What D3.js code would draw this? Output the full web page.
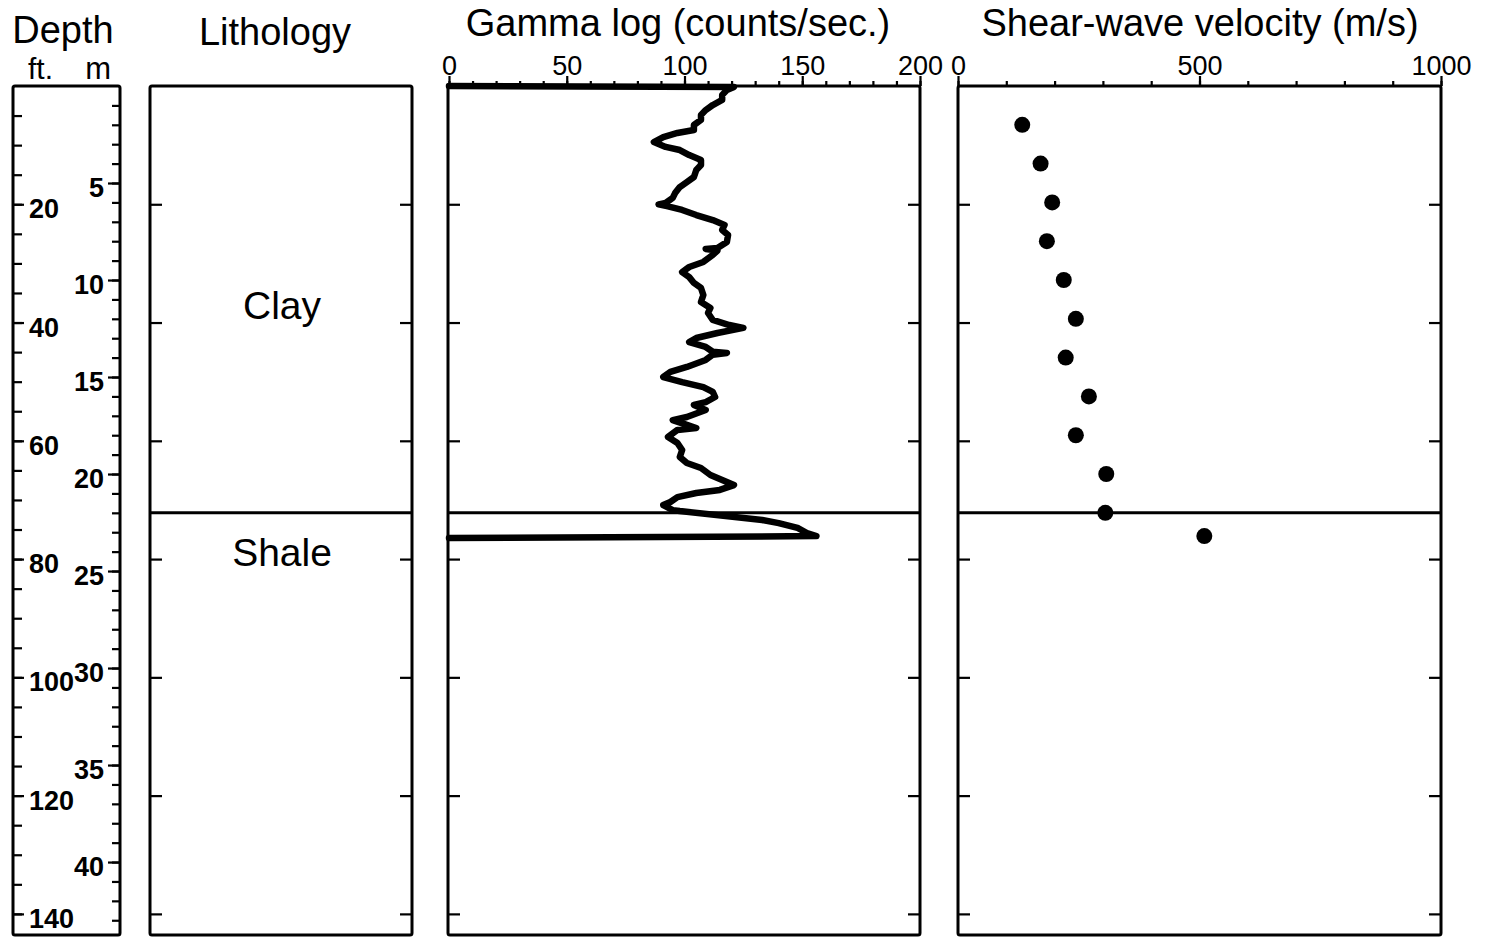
<!DOCTYPE html>
<html>
<head>
<meta charset="utf-8">
<script src="https://cdn.jsdelivr.net/npm/d3@7"></script>
<style>
  body { margin: 0; background: #fff; }
  svg { display: block; }
  text { font-family: "Liberation Sans", Arial, sans-serif; fill: #000; }
</style>
</head>
<body>
<svg id="chart" width="1485" height="937"></svg>
<script>
// depth axis labels
const ftLabels = [20, 40, 60, 80, 100, 120, 140];
const mLabels = [5, 10, 15, 20, 25, 30, 35, 40];

// lithology (depths in m)
const layerNames = ['Clay', 'Shale'];
const layerTops = [0, 22];

// gamma log axis + trace (depth in m, counts/sec)
const gammaTicks = [0, 50, 100, 150, 200];
const gammaDepth = [0, 0.05, 0.21, 0.46, 0.72, 0.98, 1.24, 1.49, 1.75, 2.01, 2.27, 2.42, 2.63, 2.89,
  3.14, 3.30, 3.56, 3.81, 4.07, 4.33, 4.69, 4.95, 5.21, 5.52, 5.77, 6.03, 6.10, 6.20, 6.39, 6.65,
  6.91, 7.16, 7.42, 7.68, 8.04, 8.35, 8.40, 8.48, 8.71, 9.07, 9.33, 9.59, 9.85, 10.15, 10.41,
  10.77, 11.13, 11.44, 11.70, 12.06, 12.32, 12.47, 12.73, 12.99, 13.20, 13.45, 13.70, 13.76,
  13.85, 14.12, 14.48, 14.74, 15.00, 15.26, 15.52, 15.77, 16.03, 16.29, 16.44, 16.70, 17.06,
  17.22, 17.47, 17.63, 17.73, 18.09, 18.40, 18.76, 19.12, 19.43, 19.69, 20.05, 20.31, 20.57,
  20.82, 20.98, 21.19, 21.44, 21.60, 21.86, 21.91, 22.37, 22.53, 22.78, 23.04, 23.20, 23.30];
const gammaValue = [0, 121, 118, 116, 116, 112, 109, 107, 107, 104, 104, 97, 91, 87,
  92, 98, 102, 107, 107, 105, 104, 101, 98, 96, 95, 92, 89, 93, 99, 105,
  112, 117, 116, 118.5, 118, 114, 109, 114, 112, 108, 102, 99, 102, 104, 107,
  108, 107, 111, 110, 112, 119, 125, 114, 105, 102, 109, 112, 118,
  112, 109, 101, 94, 91, 99, 108, 112, 113, 109, 104, 109, 101,
  95, 101, 105, 97, 93, 97, 99, 98, 101, 107, 111, 116, 121,
  115, 105, 97, 94, 91, 95, 98, 133, 140, 148, 152, 156, 0];

// shear-wave velocity (depth in m, m/s)
const velTicks = [0, 500, 1000];
const velDepth = [2, 4, 6, 8, 10, 12, 14, 16, 18, 20, 22, 23.2];
const velValue = [133, 171, 195, 184, 219, 244, 223, 271, 244, 307, 305, 510];

const svg = d3.select('#chart');
const yTop = 86, yBot = 935;
const maxDepth = 43.76; // m at bottom of columns
const FONT = '"Liberation Sans", Arial, sans-serif';

const y = d3.scaleLinear().domain([0, maxDepth]).range([yTop, yBot]);
const yFt = d3.scaleLinear().domain([0, maxDepth / 0.3048]).range([yTop, yBot]);

const panels = {
  depth: [13, 120],
  lith: [150, 412],
  gamma: [448, 920],
  vel: [958, 1441]
};

const xGamma = d3.scaleLinear().domain([0, 200]).range([449, 920]);
const xVel = d3.scaleLinear().domain([0, 1000]).range([958, 1441]);

const ink = g => g.selectAll('line').attr('stroke', '#000').attr('stroke-width', 2.2);

// titles
const title = (x, yy, s) => svg.append('text').attr('x', x).attr('y', yy)
  .attr('text-anchor', 'middle').attr('font-size', 38).text(s);
title(63, 43, 'Depth');
svg.append('text').attr('x', 28).attr('y', 79).attr('font-size', 30).text('ft.');
svg.append('text').attr('x', 111).attr('y', 79).attr('text-anchor', 'end').attr('font-size', 31).text('m');
title(275, 45, 'Lithology');
title(678, 36, 'Gamma log (counts/sec.)');
title(1200, 36, 'Shear-wave velocity (m/s)');

// depth column: ft on the left, m on the right
const ftAxis = svg.append('g').attr('transform', `translate(${panels.depth[0]},0)`)
  .call(d3.axisRight(yFt).tickValues(d3.range(5, 145, 5)).tickSize(9).tickFormat(''));
ftAxis.select('.domain').remove();
const ftLab = svg.append('g').attr('transform', `translate(${panels.depth[0]},0)`)
  .call(d3.axisRight(yFt).tickValues(ftLabels).tickSize(11).tickPadding(5));
ftLab.select('.domain').remove();
ftLab.selectAll('text').attr('font-size', 27).attr('font-weight', 'bold')
  .attr('font-family', FONT).attr('dy', '0.5em');

const mAxis = svg.append('g').attr('transform', `translate(${panels.depth[1]},0)`)
  .call(d3.axisLeft(y).tickValues(d3.range(1, 44, 1)).tickSize(8).tickFormat(''));
mAxis.select('.domain').remove();
const mLab = svg.append('g').attr('transform', `translate(${panels.depth[1]},0)`)
  .call(d3.axisLeft(y).tickValues(mLabels).tickSize(12).tickPadding(4));
mLab.select('.domain').remove();
mLab.selectAll('text').attr('font-size', 27).attr('font-weight', 'bold')
  .attr('font-family', FONT).attr('dy', '0.5em');
[ftAxis, ftLab, mAxis, mLab].forEach(ink);

// side ticks every 20 ft on the three data panels
['lith', 'gamma', 'vel'].forEach(k => {
  const [x0, x1] = panels[k];
  const l = svg.append('g').attr('transform', `translate(${x0},0)`)
    .call(d3.axisRight(yFt).tickValues(ftLabels).tickSize(12).tickFormat(''));
  const r = svg.append('g').attr('transform', `translate(${x1},0)`)
    .call(d3.axisLeft(yFt).tickValues(ftLabels).tickSize(12).tickFormat(''));
  l.select('.domain').remove(); r.select('.domain').remove();
  ink(l); ink(r);
});

// top axes
function topAxis(scale, minorStep, labels, max) {
  const minor = svg.append('g').attr('transform', `translate(0,${yTop})`)
    .call(d3.axisTop(scale).tickValues(d3.range(0, max + 1, minorStep)).tickSize(5).tickFormat(''));
  const major = svg.append('g').attr('transform', `translate(0,${yTop})`)
    .call(d3.axisTop(scale).tickValues(labels).tickSize(10).tickPadding(1).tickFormat(d3.format('d')));
  minor.select('.domain').remove(); major.select('.domain').remove();
  major.selectAll('text').attr('font-size', 27).attr('font-family', FONT);
  ink(minor); ink(major);
}
topAxis(xGamma, 10, gammaTicks, 200);
topAxis(xVel, 100, velTicks, 1000);

// lithology labels
const lithLabelAt = [11.3, 24];
svg.append('g').selectAll('text').data(layerNames).join('text')
  .attr('x', 282).attr('y', (d, i) => y(lithLabelAt[i]))
  .attr('dy', '0.36em').attr('text-anchor', 'middle').attr('font-size', 39).text(d => d);

// clay/shale contact across the data panels
['lith', 'gamma', 'vel'].forEach(k => {
  svg.append('line').attr('x1', panels[k][0]).attr('x2', panels[k][1])
    .attr('y1', y(layerTops[1])).attr('y2', y(layerTops[1]))
    .attr('stroke', '#000').attr('stroke-width', 3);
});

// gamma trace
const gamma = gammaDepth.map((d, i) => ({ d, v: gammaValue[i] }));
svg.append('path').datum(gamma)
  .attr('fill', 'none').attr('stroke', '#000').attr('stroke-width', 6.5)
  .attr('stroke-linejoin', 'round').attr('stroke-linecap', 'round')
  .attr('d', d3.line().x(p => xGamma(p.v)).y(p => y(p.d)));

// velocity dots
svg.append('g').selectAll('circle').data(velDepth).join('circle')
  .attr('cx', (d, i) => xVel(velValue[i])).attr('cy', d => y(d)).attr('r', 8).attr('fill', '#000');

// panel frames
Object.values(panels).forEach(([x0, x1]) => {
  svg.append('rect').attr('x', x0).attr('y', yTop).attr('width', x1 - x0).attr('height', yBot - yTop)
    .attr('fill', 'none').attr('stroke', '#000').attr('stroke-width', 3).attr('rx', 2);
});
</script>
</body>
</html>
